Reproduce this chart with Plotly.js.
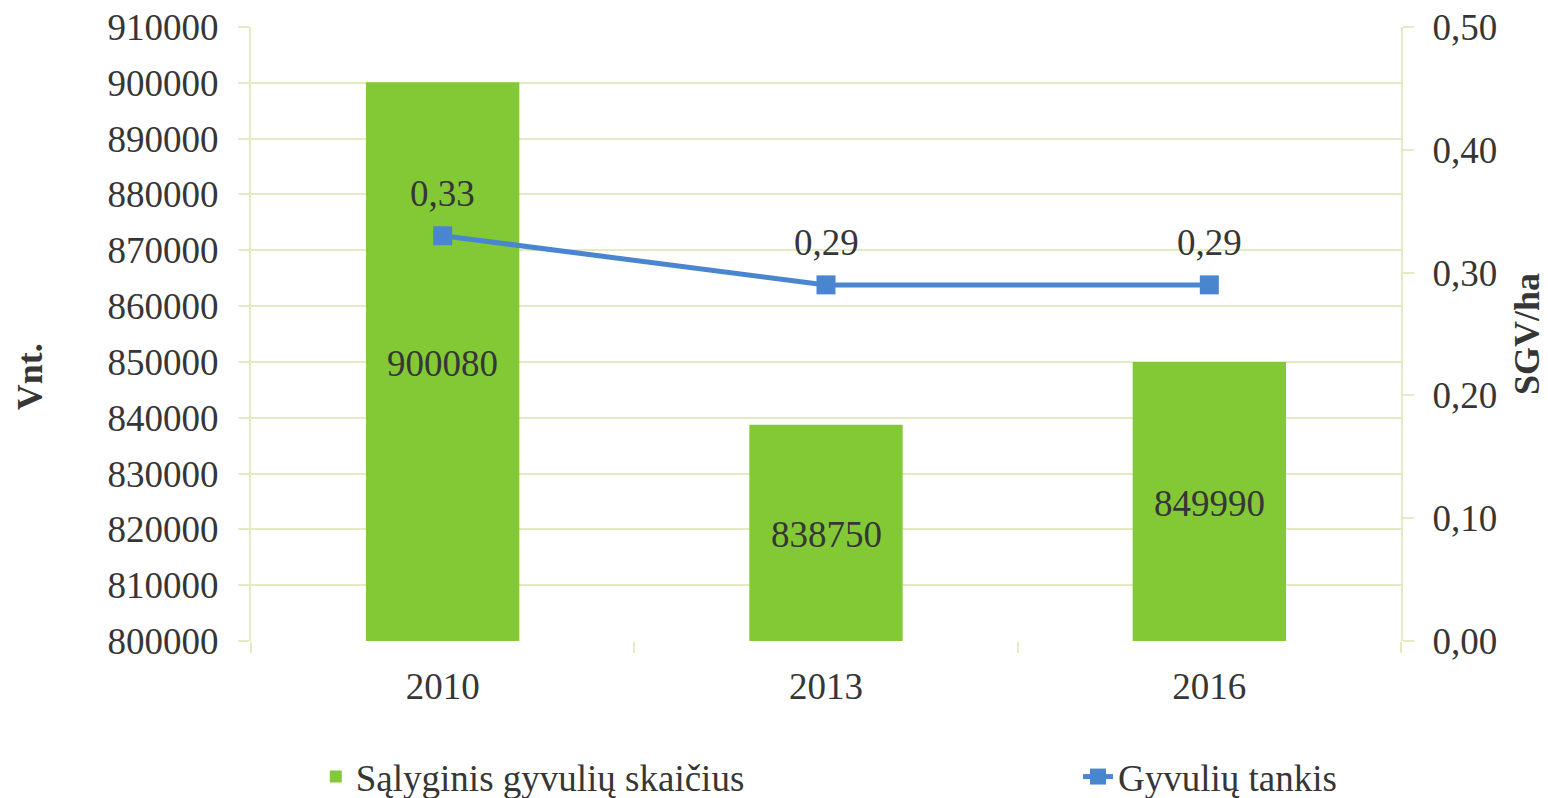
<!DOCTYPE html>
<html>
<head>
<meta charset="utf-8">
<script src="https://cdn.plot.ly/plotly-3.0.1.min.js"></script>
<style>html,body{margin:0;padding:0;background:#fff;}#chart{width:1548px;height:798px;}</style>
</head>
<body>
<div id="chart"></div>
<script>
const years = ['2010', '2013', '2016'];
const livestockUnits = [900080, 838750, 849990];
const density = [0.33, 0.29, 0.29];
const leftRange = [800000, 910000];
const leftTicks = [800000, 810000, 820000, 830000, 840000, 850000, 860000, 870000, 880000, 890000, 900000, 910000];
const rightTicks = [0, 0.1, 0.2, 0.3, 0.4, 0.5];
const seriesNames = ['Sąlyginis gyvulių skaičius', 'Gyvulių tankis'];
const axisTitles = ['Vnt.', 'SGV/ha'];

const FONT = 'Liberation Serif, Times New Roman, serif';
const TXT = '#363636';
const GRID = '#e2ebc2';
const GREEN = '#82c935';
const BLUE = '#4a86cf';

const traces = [
  {
    type: 'bar', x: years, y: livestockUnits, name: seriesNames[0], legend: 'legend',
    marker: {color: GREEN}, width: 0.4, hoverinfo: 'x+y'
  },
  {
    type: 'scatter', mode: 'lines+markers', x: years, y: density, yaxis: 'y2', name: seriesNames[1],
    legend: 'legend2',
    line: {color: BLUE, width: 5}, marker: {symbol: 'square', size: 19, color: BLUE}
  }
];

// line value labels above markers
const annotations = years.map((yr, i) => ({
  x: i, y: density[i], xref: 'x', yref: 'y2', text: density[i].toFixed(2).replace('.', ','),
  showarrow: false, yshift: 42, font: {family: FONT, size: 37, color: TXT}
}));
// bar value labels in the middle of the visible bar
years.forEach((yr, i) => {
  annotations.push({
    x: i, y: (leftRange[0] + livestockUnits[i]) / 2, xref: 'x', yref: 'y',
    text: String(livestockUnits[i]), showarrow: false, yanchor: 'middle', yshift: -2,
    font: {family: FONT, size: 37, color: TXT}
  });
});
annotations.push({
  text: '<b>' + axisTitles[0] + '</b>', xref: 'paper', yref: 'paper', x: -0.192, y: 0.43,
  xanchor: 'center', yanchor: 'middle', textangle: -90, showarrow: false,
  font: {family: FONT, size: 36, color: TXT}
});
annotations.push({
  text: '<b>' + axisTitles[1] + '</b>', xref: 'paper', yref: 'paper', x: 1.1096, y: 0.5,
  xanchor: 'center', yanchor: 'middle', textangle: -90, showarrow: false,
  font: {family: FONT, size: 36, color: TXT}
});

const legendBase = {
  orientation: 'h', xref: 'container', yref: 'container', y: 0.0263,
  xanchor: 'left', yanchor: 'middle',
  font: {family: FONT, size: 37, color: TXT}, bgcolor: 'rgba(0,0,0,0)'
};

const layout = {
  width: 1548, height: 798,
  margin: {l: 251, r: 147, t: 27, b: 157, autoexpand: false},
  paper_bgcolor: '#fff', plot_bgcolor: '#fff',
  separators: ',.',
  font: {family: FONT, size: 37, color: TXT},
  showlegend: true,
  xaxis: {
    type: 'category', range: [-0.5, 2.5], showgrid: false, showline: false, zeroline: false,
    ticks: 'outside', tickson: 'boundaries', ticklen: 11, tickcolor: GRID, tickwidth: 2,
    ticklabelstandoff: 20,
    tickfont: {family: FONT, size: 37, color: TXT}
  },
  yaxis: {
    range: leftRange, tickvals: leftTicks, tickformat: 'd',
    showgrid: true, gridcolor: GRID, gridwidth: 2, zeroline: false,
    showline: true, linecolor: GRID, linewidth: 2,
    ticks: 'outside', ticklen: 11, tickcolor: GRID, tickwidth: 2, ticklabelstandoff: 12,
    tickfont: {family: FONT, size: 37, color: TXT}
  },
  yaxis2: {
    overlaying: 'y', side: 'right', range: [0, 0.5], tickvals: rightTicks, tickformat: '.2f',
    showgrid: false, zeroline: false,
    showline: true, linecolor: GRID, linewidth: 2,
    ticks: 'outside', ticklen: 11, tickcolor: GRID, tickwidth: 2, ticklabelstandoff: 11,
    tickfont: {family: FONT, size: 37, color: TXT}
  },
  legend: Object.assign({}, legendBase, {x: 0.204}),
  legend2: Object.assign({}, legendBase, {x: 0.6964}),
  annotations: annotations
};

Plotly.newPlot('chart', traces, layout, {displayModeBar: false});
</script>
</body>
</html>
